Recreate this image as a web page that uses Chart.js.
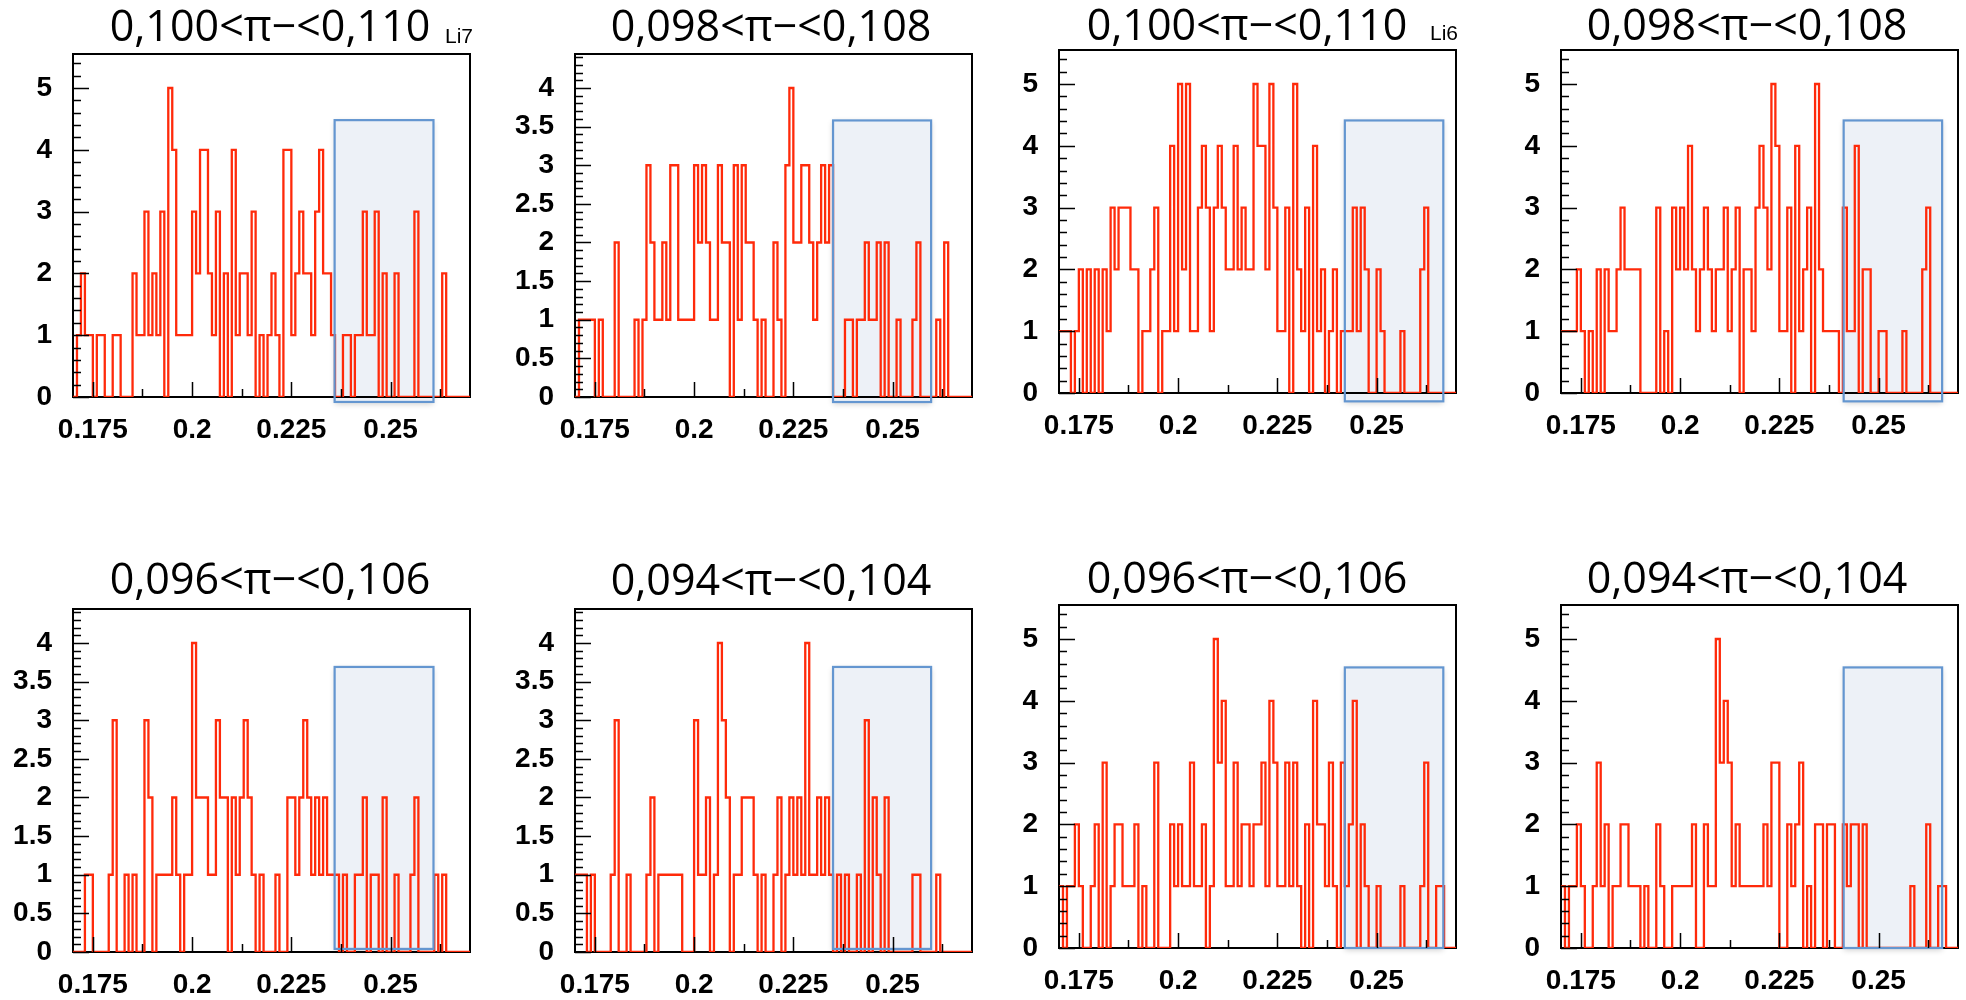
<!DOCTYPE html>
<html>
<head>
<meta charset="utf-8">
<script src="https://cdn.jsdelivr.net/npm/chart.js@4.4.1/dist/chart.umd.min.js"></script>
<style>
html, body { margin: 0; padding: 0; background: #fff; overflow: hidden; }
body { width: 1966px; height: 1000px; position: relative; }
canvas { position: absolute; }
</style>
</head>
<body>
<script>
// Eight count histograms, 100 bins of 0.001 from 0.17 to 0.27.
var BIN_LOW = 0.17;
var BIN_WIDTH = 0.001;
var X_MIN = 0.17, X_MAX = 0.27;

var X_TICKS = [0.175, 0.2, 0.225, 0.25];
var X_TICK_LABELS = ["0.175", "0.2", "0.225", "0.25"];
var X_MINOR_TICKS = [0.1875, 0.2125, 0.2375, 0.2625];

var Y_TICKS_WHOLE = [0, 1, 2, 3, 4, 5];
var Y_TICKS_HALF = [0, 0.5, 1, 1.5, 2, 2.5, 3, 3.5, 4];

var TITLES = [
	"0,100<π−<0,110", "0,098<π−<0,108", "0,100<π−<0,110", "0,098<π−<0,108",
	"0,096<π−<0,106", "0,094<π−<0,104", "0,096<π−<0,106", "0,094<π−<0,104"
];
var NOTES = ["Li7", "", "Li6", "", "", "", "", ""];

var COUNTS_LI7_100_110 = [
	0,1,2,1,1,0,1,1,0,0, 1,1,0,0,0,2,1,1,3,1, 2,1,3,0,5,4,1,1,1,1, 3,2,4,4,2,1,3,0,2,0,
	4,1,2,2,1,3,0,1,0,1, 2,1,0,4,4,1,2,3,2,2, 1,3,4,2,2,1,0,0,1,1, 0,1,1,3,1,1,3,0,2,0,
	0,2,0,0,0,0,3,0,0,0, 0,0,0,2,0,0,0,0,0,0
];
var COUNTS_LI7_098_108 = [
	0,1,1,1,1,0,1,0,0,0, 2,0,0,0,0,1,0,1,3,2, 1,1,2,1,3,3,1,1,1,1, 3,2,3,2,1,1,3,2,2,0,
	3,1,3,2,2,1,0,1,0,0, 2,1,0,3,4,2,2,3,3,2, 1,2,3,2,3,0,0,0,1,1, 0,1,1,2,1,1,2,0,2,0,
	0,1,0,0,0,1,2,0,0,0, 0,1,0,2,0,0,0,0,0,0
];
var COUNTS_LI6_100_110 = [
	1,1,1,0,1,2,0,2,0,2, 0,2,1,3,2,3,3,3,2,2, 0,1,1,2,3,0,1,1,4,1, 5,2,5,1,1,3,4,3,1,3,
	4,3,2,2,4,2,3,2,2,5, 4,4,2,5,3,1,1,3,0,5, 2,1,3,0,4,1,2,0,1,2, 0,1,1,1,3,1,3,2,0,0,
	2,1,0,0,0,0,1,0,0,0, 0,2,3,0,0,0,0,0,0,0
];
var COUNTS_LI6_098_108 = [
	1,1,1,1,2,1,0,1,0,2, 0,2,1,1,2,3,2,2,2,2, 0,0,0,0,3,0,1,0,3,2, 3,2,4,2,1,2,3,2,1,2,
	2,3,1,2,3,0,2,2,1,3, 4,3,2,5,4,1,1,3,0,4, 1,2,3,0,5,2,1,1,1,1, 0,3,1,1,4,0,2,2,0,0,
	1,1,0,0,0,0,1,0,0,0, 0,2,3,0,0,0,0,0,0,0
];
var COUNTS_LI7_096_106 = [
	0,0,0,1,1,0,0,0,0,1, 3,0,0,1,0,1,0,0,3,2, 0,1,1,1,1,2,1,0,1,1, 4,2,2,2,1,1,3,2,2,0,
	2,1,2,3,2,1,0,1,0,0, 0,1,0,0,2,2,1,2,3,2, 1,2,1,2,1,1,1,0,1,0, 0,1,1,2,0,1,1,0,2,0,
	0,1,0,0,0,1,2,0,0,0, 0,1,0,1,0,0,0,0,0,0
];
var COUNTS_LI7_094_104 = [
	1,1,1,0,1,0,0,0,0,1, 3,0,0,1,0,0,0,0,1,2, 0,1,1,1,1,1,1,0,0,0, 3,1,1,2,0,1,4,3,2,0,
	1,1,2,2,2,1,0,1,0,0, 1,2,0,1,2,1,2,1,4,1, 1,2,1,2,1,0,1,0,1,0, 0,1,0,3,0,2,1,0,2,0,
	0,0,0,0,0,1,1,0,0,0, 0,1,0,0,0,0,0,0,0,0
];
var COUNTS_LI6_096_106 = [
	1,0,1,1,2,1,0,0,1,2, 0,3,0,1,2,2,1,1,1,2, 0,1,0,0,3,0,0,0,2,1, 2,1,1,3,1,1,2,0,1,5,
	3,4,1,1,3,1,2,2,1,2, 2,3,1,4,3,1,1,3,1,3, 1,0,2,0,4,2,2,1,3,1, 0,3,1,2,4,0,2,1,0,0,
	1,0,0,0,0,0,1,0,0,0, 0,1,3,0,0,1,1,0,0,0
];
var COUNTS_LI6_094_104 = [
	1,0,1,1,2,1,0,0,1,3, 1,2,0,1,1,2,2,1,1,1, 0,1,0,0,2,1,0,0,1,1, 1,1,1,2,0,0,2,1,1,5,
	3,4,3,1,2,1,1,1,1,1, 1,2,1,3,3,0,0,2,1,2, 3,0,1,0,2,2,0,2,2,0, 0,2,1,2,2,0,2,0,0,0,
	0,0,0,0,0,0,0,0,1,0, 0,0,2,0,0,1,1,0,0,0
];

var PANEL_COUNTS = [
	COUNTS_LI7_100_110, COUNTS_LI7_098_108, COUNTS_LI6_100_110, COUNTS_LI6_098_108,
	COUNTS_LI7_096_106, COUNTS_LI7_094_104, COUNTS_LI6_096_106, COUNTS_LI6_094_104
];

var Y_MAX = [5.55, 4.44, 5.55, 5.55, 4.44, 4.44, 5.55, 5.55];
var Y_TICK_SETS = [Y_TICKS_WHOLE, Y_TICKS_HALF, Y_TICKS_WHOLE, Y_TICKS_WHOLE,
	Y_TICKS_HALF, Y_TICKS_HALF, Y_TICKS_WHOLE, Y_TICKS_WHOLE];
var Y_MINOR_STEP = [0.2, 0.1, 0.2, 0.2, 0.1, 0.1, 0.2, 0.2];

// Selection window (shaded box), in axis units
var BOX_X_FROM = [0.2359, 0.2350, 0.2420, 0.2412, 0.2359, 0.2350, 0.2420, 0.2412];
var BOX_X_TO   = [0.2608, 0.2597, 0.2668, 0.2660, 0.2608, 0.2597, 0.2668, 0.2660];
var BOX_Y_FROM = [-0.08, -0.065, -0.135, -0.135, 0.04, 0.04, 0, 0];
var BOX_Y_TO   = [4.48, 3.58, 4.41, 4.41, 3.69, 3.69, 4.54, 4.54];

// Page layout of each panel (plot frame corner, title spot)
var PLOT_LEFT = [73, 575, 1059, 1561, 73, 575, 1059, 1561];
var PLOT_TOP = [54, 54, 50, 50, 609, 609, 605, 605];
var PLOT_W = 397, PLOT_H = 343;
var TITLE_CENTER = [270, 771, 1247, 1747, 270, 771, 1247, 1747];
var TITLE_BASELINE = [41, 41, 40, 40, 594, 595, 593, 593];
var NOTE_LEFT = [445, 0, 1430, 0, 0, 0, 0, 0];
var NOTE_BASELINE = [43, 0, 40, 0, 0, 0, 0, 0];
var AXIS_W = 70, AXIS_H = 52, TOP_SPACE = 54, RIGHT_SPACE = 8;

var RED = "#ff2a0a";
var TICK_FONT = { family: "'Liberation Sans', Arial, sans-serif", size: 28, weight: "bold" };

// Frame, inner ticks, selection box and titles (ROOT style)
var panelDecor = {
	id: "panelDecor",
	beforeDatasetsDraw: function(chart, args, opts) {
		var ctx = chart.ctx, a = chart.chartArea;
		var xs = chart.scales.x, ys = chart.scales.y;
		var bx0 = xs.getPixelForValue(opts.box[0]), bx1 = xs.getPixelForValue(opts.box[1]);
		var by0 = ys.getPixelForValue(opts.box[2]), by1 = ys.getPixelForValue(opts.box[3]);
		ctx.save();
		ctx.shadowColor = "rgba(0,0,0,0.2)";
		ctx.shadowBlur = 6;
		ctx.shadowOffsetY = 2;
		ctx.fillStyle = "#edf1f7";
		ctx.fillRect(bx0, by1, bx1 - bx0, by0 - by1);
		ctx.restore();

		ctx.save();
		ctx.strokeStyle = "#000";
		ctx.lineWidth = 2;
		ctx.strokeRect(a.left, a.top, a.right - a.left, a.bottom - a.top);
		ctx.restore();
	},
	afterDatasetsDraw: function(chart, args, opts) {
		var ctx = chart.ctx, a = chart.chartArea;
		var xs = chart.scales.x, ys = chart.scales.y;
		var bx0 = xs.getPixelForValue(opts.box[0]), bx1 = xs.getPixelForValue(opts.box[1]);
		var by0 = ys.getPixelForValue(opts.box[2]), by1 = ys.getPixelForValue(opts.box[3]);
		ctx.save();
		ctx.strokeStyle = "#6496d0";
		ctx.lineWidth = 2.2;
		ctx.strokeRect(bx0, by1, bx1 - bx0, by0 - by1);

		ctx.strokeStyle = "#000";
		ctx.lineWidth = 1.5;
		ctx.beginPath();
		var i, px, py;
		for (i = 0; i < X_TICKS.length; i++) {
			px = Math.round(xs.getPixelForValue(X_TICKS[i])) + 0.5;
			ctx.moveTo(px, a.bottom); ctx.lineTo(px, a.bottom - 15);
		}
		for (i = 0; i < X_MINOR_TICKS.length; i++) {
			px = Math.round(xs.getPixelForValue(X_MINOR_TICKS[i])) + 0.5;
			ctx.moveTo(px, a.bottom); ctx.lineTo(px, a.bottom - 8);
		}
		var n = Math.floor(opts.yMax / opts.minorStep + 1e-6);
		var majorEvery = Math.round((opts.yTicks[1] - opts.yTicks[0]) / opts.minorStep);
		for (i = 0; i <= n; i++) {
			py = Math.round(ys.getPixelForValue(i * opts.minorStep)) + 0.5;
			ctx.moveTo(a.left, py);
			ctx.lineTo(a.left + (i % majorEvery === 0 ? 16 : 8), py);
		}
		ctx.stroke();
		ctx.restore();
	},
	afterDraw: function(chart, args, opts) {
		var ctx = chart.ctx;
		ctx.save();
		ctx.fillStyle = "#000";
		ctx.textBaseline = "alphabetic";
		ctx.textAlign = "center";
		ctx.font = "43px 'Open Sans', sans-serif";
		ctx.fillText(opts.title, opts.titleX, opts.titleY);
		if (opts.note) {
			ctx.textAlign = "left";
			ctx.font = "21px 'Liberation Sans', Arial, sans-serif";
			ctx.fillText(opts.note, opts.noteX, opts.noteY);
		}
		ctx.restore();
	}
};

function histogramPoints(counts) {
	var pts = [];
	for (var i = 0; i < counts.length; i++) {
		pts.push({ x: BIN_LOW + i * BIN_WIDTH, y: counts[i] });
	}
	pts.push({ x: BIN_LOW + counts.length * BIN_WIDTH, y: counts[counts.length - 1] });
	return pts;
}

function makePanel(p) {
	var canvas = document.createElement("canvas");
	var left = PLOT_LEFT[p] - AXIS_W;
	var top = PLOT_TOP[p] - TOP_SPACE;
	var w = AXIS_W + PLOT_W + RIGHT_SPACE;
	var h = TOP_SPACE + PLOT_H + AXIS_H;
	canvas.width = w; canvas.height = h;
	canvas.style.left = left + "px";
	canvas.style.top = top + "px";
	canvas.style.width = w + "px";
	canvas.style.height = h + "px";
	document.body.appendChild(canvas);

	var yTicks = Y_TICK_SETS[p];
	return new Chart(canvas, {
		type: "line",
		data: {
			datasets: [{
				data: histogramPoints(PANEL_COUNTS[p]),
				stepped: "before",
				borderColor: RED,
				borderWidth: 2.3,
				pointRadius: 0,
				fill: false,
				tension: 0
			}]
		},
		options: {
			responsive: false,
			animation: false,
			devicePixelRatio: 1,
			layout: { padding: { left: 0, right: RIGHT_SPACE, top: TOP_SPACE, bottom: 0 } },
			plugins: {
				legend: { display: false },
				tooltip: { enabled: false },
				panelDecor: {
					box: [BOX_X_FROM[p], BOX_X_TO[p], BOX_Y_FROM[p], BOX_Y_TO[p]],
					yMax: Y_MAX[p],
					yTicks: yTicks,
					minorStep: Y_MINOR_STEP[p],
					title: TITLES[p],
					titleX: TITLE_CENTER[p] - left,
					titleY: TITLE_BASELINE[p] - top,
					note: NOTES[p],
					noteX: NOTE_LEFT[p] - left,
					noteY: NOTE_BASELINE[p] - top
				}
			},
			scales: {
				x: {
					type: "linear",
					min: X_MIN,
					max: X_MAX,
					grid: { display: false, drawTicks: false },
					border: { display: false },
					afterBuildTicks: function(s) { s.ticks = X_TICKS.map(function(v) { return { value: v }; }); },
					afterFit: function(s) { s.height = AXIS_H; },
					ticks: {
						font: TICK_FONT,
						color: "#000",
						padding: 16,
						maxRotation: 0,
						minRotation: 0,
						autoSkip: false,
						callback: function(v, i) { return X_TICK_LABELS[i]; }
					}
				},
				y: {
					min: 0,
					max: Y_MAX[p],
					grid: { display: false, drawTicks: false },
					border: { display: false },
					afterBuildTicks: function(s) { s.ticks = yTicks.map(function(v) { return { value: v }; }); },
					afterFit: function(s) { s.width = AXIS_W; },
					ticks: {
						font: TICK_FONT,
						color: "#000",
						padding: 21,
						autoSkip: false,
						callback: function(v) { return String(v); }
					}
				}
			}
		},
		plugins: [panelDecor]
	});
}

for (var p = 0; p < PANEL_COUNTS.length; p++) {
	makePanel(p);
}
</script>
</body>
</html>
